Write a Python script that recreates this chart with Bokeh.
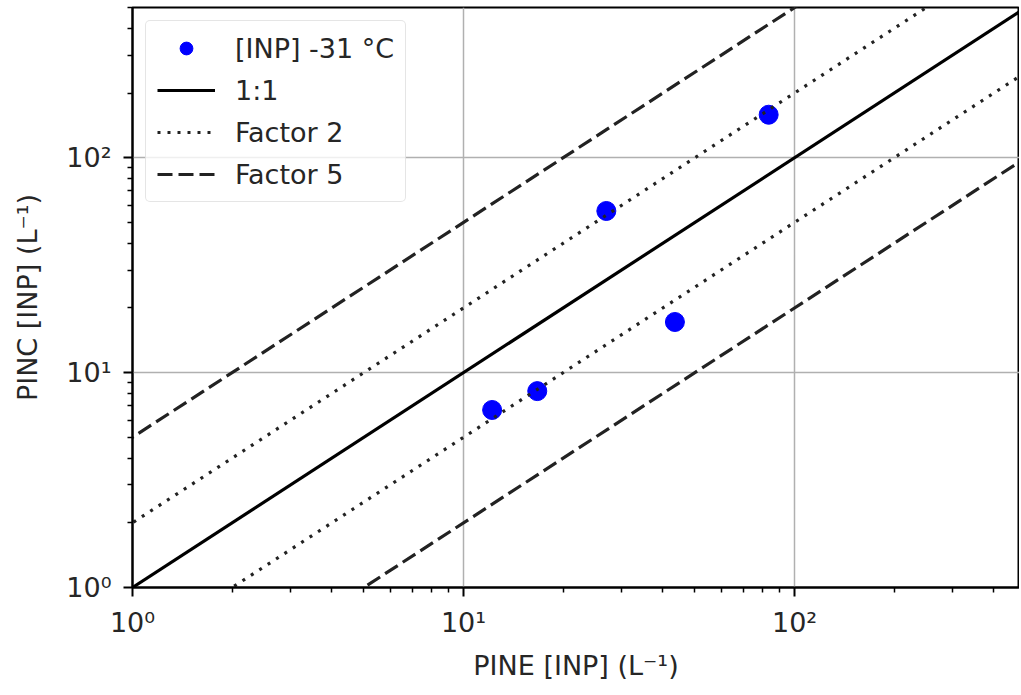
import numpy as np
from bokeh.plotting import figure
from bokeh.models import (CustomJSTickFormatter, FixedTicker, Legend, LegendItem,
                          Range1d)
from bokeh.embed import file_html
from bokeh.resources import INLINE

# data
pine = [12.2, 16.7, 27.0, 43.5, 83.5]
pinc = [6.7, 8.2, 56.5, 17.2, 158.5]

# reference lines: y = factor * x
ref_x = [0.5, 2000.0]
factor_one = 1.0
factors_two = [2.0, 0.5]
factors_five = [5.0, 0.2]

major_ticks = [1, 10, 100]
minor_ticks = [m * d for d in (1, 10, 100) for m in range(2, 10)]

FONT = "DejaVu Sans"
FS = "27px"

p = figure(width=1019, height=692, x_axis_type="log", y_axis_type="log",
           x_range=Range1d(1, 478), y_range=Range1d(1, 500),
           output_backend="svg", toolbar_location=None,
           min_border_left=132, min_border_right=0, min_border_top=7,
           min_border_bottom=105)

pts = p.scatter(pine, pinc, size=19, color="#0000ff", line_color="#0000ff")

rx = np.array(ref_x)
l1 = p.line(rx, rx * factor_one, line_color="black", line_width=3.2)
l2 = [p.line(rx, rx * f, line_color="#222222", line_width=3.2, line_dash="3 7")
      for f in factors_two]
l5 = [p.line(rx, rx * f, line_color="#222222", line_width=3.2, line_dash="15 6")
      for f in factors_five]

legend = Legend(items=[
    LegendItem(label="[INP] -31 °C", renderers=[pts]),
    LegendItem(label="1:1", renderers=[l1]),
    LegendItem(label="Factor 2", renderers=[l2[0]]),
    LegendItem(label="Factor 5", renderers=[l5[0]]),
], location="top_left")
legend.margin = 13
legend.padding = 11
legend.spacing = 10
legend.glyph_width = 58
legend.glyph_height = 32
legend.label_height = 32
legend.label_standoff = 20
legend.label_text_font = FONT
legend.label_text_font_size = FS
legend.label_text_color = "#262626"
legend.border_line_color = "#cccccc"
legend.border_line_width = 1.5
legend.background_fill_alpha = 0.8
if "border_radius" in Legend.properties():
    legend.border_radius = 5
p.add_layout(legend)

fmt = CustomJSTickFormatter(code="""
const sup = {'0':'\u2070','1':'\u00b9','2':'\u00b2','3':'\u00b3','-':'\u207b'};
const e = Math.round(Math.log10(tick));
return '10' + String(e).split('').map(c => sup[c]).join('');
""")

for ax in (p.xaxis[0], p.yaxis[0]):
    ax.ticker = FixedTicker(ticks=major_ticks, minor_ticks=minor_ticks)
    ax.formatter = fmt
    ax.major_label_text_font = FONT
    ax.major_label_text_font_size = FS
    ax.major_label_text_color = "#262626"
    ax.axis_label_text_font = FONT
    ax.axis_label_text_font_size = FS
    ax.axis_label_text_font_style = "normal"
    ax.axis_label_text_color = "#262626"
    ax.axis_line_color = "black"
    ax.axis_line_width = 2
    ax.major_tick_line_width = 2
    ax.minor_tick_line_width = 1.5
    ax.major_tick_in = 0
    ax.major_tick_out = 9
    ax.minor_tick_in = 0
    ax.minor_tick_out = 5

p.xaxis.axis_label = "PINE [INP] (L\u207b\u00b9)"
p.yaxis.axis_label = "PINC [INP] (L\u207b\u00b9)"
p.xaxis.major_label_standoff = 10
p.yaxis.major_label_standoff = 12
p.xaxis.axis_label_standoff = 9
p.yaxis.axis_label_standoff = 20

p.grid.grid_line_color = "#b0b0b0"
p.grid.grid_line_width = 1.5
p.outline_line_color = "black"
p.outline_line_width = 2
p.outline_line_alpha = 1.0
p.background_fill_color = "white"
p.border_fill_color = "white"

open("out.html", "w").write(file_html(p, INLINE))
